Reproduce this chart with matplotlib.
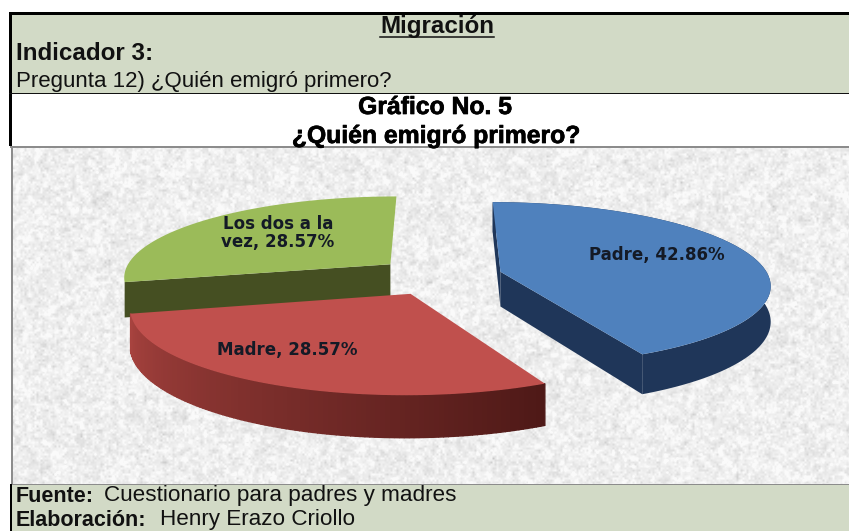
import numpy as np
import matplotlib
matplotlib.use("Agg")
import matplotlib.pyplot as plt
from matplotlib.patches import Polygon, Rectangle
import matplotlib.patheffects as pe

# Data
categories = ["Padre", "Madre", "Los dos a la\nvez"]
values = [42.86, 28.57, 28.57]
top_colors = ["#4f81bd", "#c0504d", "#9bbb59"]
side_colors = ["#1f3659", "#6e2624", "#454f22"]

# Pie geometry in picture pixels (fitted to the perspective of the original)
CX, CY = 439, 276
RX = 268
HORIZON = -280
PERSP = 0.1455
EXPLODE = 0.237
DEPTH = 35

W, H = 849, 531
SAGE = "#d2dac6"


def project(x, y, drop=0.0):
    s = 1 / (1 + PERSP * y)
    return CX + RX * x * s, HORIZON + (CY - HORIZON) * s + drop * DEPTH * s


def wedge_xy(start, end, mid, n=120):
    ang = np.radians(np.linspace(start, end, n))
    ox = EXPLODE * np.cos(np.radians(mid))
    oy = EXPLODE * np.sin(np.radians(mid))
    return np.cos(ang) + ox, np.sin(ang) + oy, ox, oy


fig = plt.figure(figsize=(W / 100, H / 100), dpi=100)
ax = fig.add_axes([0, 0, 1, 1])
ax.set_xlim(0, W)
ax.set_ylim(H, 0)
ax.axis("off")

# Mottled paper texture behind the pie (decoration only, not data)
rng = np.random.default_rng(5)
tex = np.zeros((338, 836))
for step, amp in [(2, 0.9), (4, 1.0), (9, 0.45)]:
    small = rng.normal(size=(338 // step + 2, 836 // step + 2))
    xi = np.arange(836) / step
    yi = np.arange(338) / step
    x0 = xi.astype(int)
    y0 = yi.astype(int)
    fx = xi - x0
    fy = (yi - y0)[:, None]
    tex += amp * ((1 - fy) * ((1 - fx) * small[y0][:, x0] + fx * small[y0][:, x0 + 1])
                  + fy * ((1 - fx) * small[y0 + 1][:, x0] + fx * small[y0 + 1][:, x0 + 1]))
tex = 238 + 7 * tex / tex.std()
ax.imshow(np.clip(tex, 200, 250), cmap="gray", vmin=0, vmax=255, extent=(13, W, 484, 146),
          aspect="auto", interpolation="bilinear", zorder=1)
ax.set_xlim(0, W)
ax.set_ylim(H, 0)

# Table bands and borders
ax.add_patch(Rectangle((10, 14), W - 10, 79, color=SAGE, lw=0, zorder=2))
ax.add_patch(Rectangle((10, 484), W - 10, 47, color=SAGE, lw=0, zorder=2))
ax.add_patch(Rectangle((9, 12), W - 9, 3, color="black", lw=0, zorder=3))
ax.add_patch(Rectangle((9, 12), 3, 134, color="black", lw=0, zorder=3))
ax.add_patch(Rectangle((9, 92.5), W - 9, 1.5, color="#111111", lw=0, zorder=3))
ax.add_patch(Rectangle((10, 146), W - 10, 1.5, color="#8c8c8c", lw=0, zorder=3))
ax.add_patch(Rectangle((11, 146), 2.5, 338, color="#8c8c8c", lw=0, zorder=3))
ax.add_patch(Rectangle((10, 483.5), W - 10, 1, color="#8c8c8c", lw=0, zorder=3))
ax.add_patch(Rectangle((10, 484), 2, 47, color="black", lw=0, zorder=3))

# Slice angles come from the values, clockwise from the top
angles = [90]
for v in values:
    angles.append(angles[-1] - 360 * v / sum(values))


def draw_slice(i, z):
    start, end = angles[i], angles[i + 1]
    mid = (start + end) / 2
    ax_, ay_, ox, oy = wedge_xy(start, end, mid)
    tx, ty = project(ax_, ay_)
    bx, by = project(ax_, ay_, 1)
    cx, cy = project(ox, oy)
    cbx, cby = project(ox, oy, 1)

    if i == 0:
        # outer wall and the cut face towards the viewer
        ax.add_patch(Polygon(np.column_stack([np.r_[tx, bx[::-1]], np.r_[ty, by[::-1]]]),
                             color=side_colors[i], lw=0, zorder=z))
        ax.add_patch(Polygon([(tx[-1], ty[-1]), (cx, cy), (cbx, cby), (bx[-1], by[-1])],
                             color=side_colors[i], lw=0, zorder=z))
        ax.add_patch(Polygon([(tx[0], ty[0]), (cx, cy), (cbx, cby), (bx[0], by[0])],
                             color=side_colors[i], lw=0, zorder=z))
    elif i == 1:
        # wall shaded, dark at the right end and lighter to the left
        light = np.array(matplotlib.colors.to_rgb("#a8433f"))
        dark = np.array(matplotlib.colors.to_rgb("#4e1917"))
        for j in range(len(tx) - 1):
            t = j / (len(tx) - 2)
            col = light * t + dark * (1 - t)
            ax.add_patch(Polygon([(tx[j], ty[j]), (tx[j + 1], ty[j + 1]),
                                  (bx[j + 1], by[j + 1]), (bx[j], by[j])],
                                 facecolor=col, edgecolor=col, lw=1.0, zorder=z))
    else:
        ax.add_patch(Polygon([(tx[0], ty[0]), (cx, cy), (cbx, cby), (bx[0], by[0])],
                             color=side_colors[i], lw=0, zorder=z))

    ax.add_patch(Polygon(np.column_stack([np.r_[tx, cx], np.r_[ty, cy]]),
                         color=top_colors[i], lw=0, zorder=z + 0.5))


draw_slice(2, 4)
draw_slice(0, 5)
draw_slice(1, 6)

# Data labels
label_pos = [(657, 255), (287, 350), (278, 233)]
for name, v, (lx, ly) in zip(categories, values, label_pos):
    ax.text(lx, ly, f"{name}, {v:.2f}%", ha="center", va="center", fontsize=12,
            fontfamily="DejaVu Sans", fontweight="bold", color="#141a26", zorder=8,
            linespacing=1.05)

# Table text
arial = "Liberation Sans"
ax.text(437, 27, "Migración", ha="center", va="center", fontsize=17.4, fontweight="bold",
        fontfamily=arial, color="#111111", zorder=8)
ax.plot([380, 494], [37, 37], color="#111111", lw=1.1, zorder=8)
ax.text(16, 53, "Indicador 3:", ha="left", va="center", fontsize=17.4, fontweight="bold",
        fontfamily=arial, color="#111111", zorder=8)
ax.text(16, 82, "Pregunta 12) ¿Quién emigró primero?", ha="left", va="center", fontsize=16,
        fontfamily=arial, color="#111111", zorder=8)
heavy = [pe.withStroke(linewidth=0.5, foreground="black")]
ax.text(435, 107, "Gráfico No. 5", ha="center", va="center", fontsize=17.8, fontweight="bold",
        fontfamily=arial, color="black", zorder=8, path_effects=heavy)
ax.text(436, 136, "¿Quién emigró primero?", ha="center", va="center", fontsize=17.8,
        fontweight="bold", fontfamily=arial, color="black", zorder=8, path_effects=heavy)

ax.text(16, 496, "Fuente:", ha="left", va="center", fontsize=15.5, fontweight="bold",
        fontfamily=arial, color="#111111", zorder=8)
ax.text(104, 496, "Cuestionario para padres y madres", ha="left", va="center", fontsize=16.2,
        fontfamily=arial, color="#111111", zorder=8)
ax.text(16, 520, "Elaboración:", ha="left", va="center", fontsize=15.5, fontweight="bold",
        fontfamily=arial, color="#111111", zorder=8)
ax.text(160, 520, "Henry Erazo Criollo", ha="left", va="center", fontsize=16.2,
        fontfamily=arial, color="#111111", zorder=8)

fig.savefig("out.png", dpi=100)
